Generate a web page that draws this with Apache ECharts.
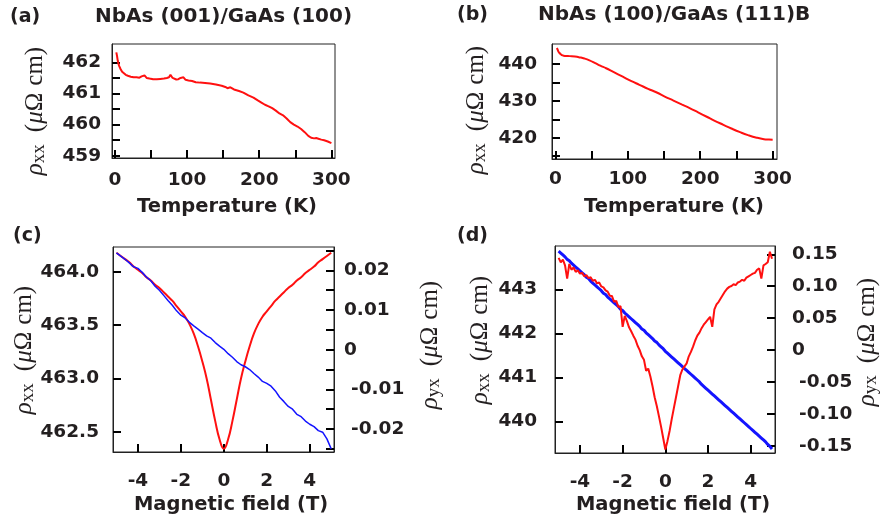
<!DOCTYPE html>
<html>
<head>
<meta charset="utf-8">
<script src="https://cdn.jsdelivr.net/npm/echarts@6/dist/echarts.min.js"></script>
<style>
html,body{margin:0;padding:0;background:#fff;}
#chart{width:883px;height:521px;}
</style>
</head>
<body>
<div id="chart"></div>
<script>
// ---------- Panel (a): NbAs (001)/GaAs (100), rho_xx vs T ----------
const tempA = [2,3,4,5,6,8,10,12,15,18,22,26,30,34,37,39,41,44,48,53,58,63,68,72,75,77,78.5,80,82,85,88,91,93,95,98,102,107,112,118,125,132,140,148,153,156,160,165,172,178,185,192,198,203,208,213,218,223,228,233,238,243,248,253,258,263,268,272,276,279,282,286,290,295,300];
const rhoA  = [462.32,462.2,462.05,461.95,461.88,461.78,461.7,461.65,461.6,461.57,461.54,461.52,461.52,461.51,461.55,461.6,461.58,461.5,461.48,461.46,461.46,461.47,461.48,461.5,461.52,461.6,461.6,461.5,461.45,461.45,461.46,461.5,461.55,461.52,461.44,461.42,461.4,461.36,461.35,461.34,461.32,461.29,461.25,461.21,461.17,461.2,461.13,461.08,461.03,460.94,460.87,460.78,460.71,460.64,460.59,460.53,460.45,460.36,460.3,460.2,460.08,460.0,459.94,459.86,459.76,459.64,459.58,459.56,459.57,459.55,459.52,459.5,459.46,459.41];
const xTicksA = [0,50,100,150,200,250,300];
const xLabelsA = [0,100,200,300];
const yTicksA = [459,459.5,460,460.5,461,461.5,462];
const yLabelsA = [459,460,461,462];

// ---------- Panel (b): NbAs (100)/GaAs (111)B ----------
const tempB = [2,3,4,5,7,10,14,20,27,34,40,47,55,62,70,80,93,105,116,128,140,151,163,175,186,197,209,220,232,243,255,266,278,288,295,300];
const rhoB  = [444.4,444.0,443.5,443.2,442.8,442.4,442.25,442.2,442.1,441.85,441.55,441.05,440.3,439.6,438.9,437.9,436.6,435.4,434.4,433.3,432.3,431.2,430.1,429.0,428.0,426.9,425.7,424.6,423.5,422.5,421.5,420.7,420.0,419.6,419.5,419.45];
const xTicksB = [0,50,100,150,200,250,300];
const xLabelsB = [0,100,200,300];
const yTicksB = [415,420,425,430,435,440];
const yLabelsB = [420,430,440];

// ---------- Panel (c): magnetic field sweep ----------
const fieldC = [-5.0,-4.8,-4.6,-4.4,-4.2,-4.0,-3.8,-3.6,-3.4,-3.2,-3.0,-2.8,-2.6,-2.4,-2.2,-2.0,-1.8,-1.6,-1.4,-1.2,-1.0,-0.8,-0.6,-0.4,-0.2,0.0,0.2,0.4,0.6,0.8,1.0,1.2,1.4,1.6,1.8,2.0,2.2,2.4,2.6,2.8,3.0,3.2,3.4,3.6,3.8,4.0,4.2,4.4,4.6,4.8,5.0];
const rhoXXC = [464.18,464.15,464.12,464.09,464.05,464.02,463.99,463.95,463.92,463.88,463.85,463.81,463.77,463.73,463.68,463.63,463.58,463.51,463.42,463.3,463.16,463.0,462.8,462.6,462.43,462.34,462.43,462.6,462.8,463.0,463.16,463.3,463.42,463.51,463.58,463.63,463.68,463.73,463.77,463.81,463.85,463.88,463.92,463.95,463.99,464.02,464.05,464.09,464.12,464.15,464.18];
const rhoYXC = [0.0244,0.0236,0.0228,0.0219,0.0209,0.0205,0.0195,0.0183,0.0174,0.0160,0.0150,0.0137,0.0124,0.0112,0.0098,0.0087,0.0080,0.0069,0.0060,0.0052,0.0043,0.0035,0.0029,0.0018,0.0009,0.0001,-0.0010,-0.0019,-0.0030,-0.0038,-0.0043,-0.0050,-0.0060,-0.0069,-0.0080,-0.0085,-0.0092,-0.0104,-0.0120,-0.0131,-0.0143,-0.0150,-0.0163,-0.0169,-0.0180,-0.0188,-0.0194,-0.0204,-0.0208,-0.0225,-0.0250];
const xTicksC = [-4,-2,0,2,4];
const yLeftTicksC = [462.5,463.0,463.5,464.0];
const yRightTicksC = [-0.025,-0.02,-0.015,-0.01,-0.005,0,0.005,0.01,0.015,0.02,0.025];
const yRightLabelsC = [-0.02,-0.01,0,0.01,0.02];

// ---------- Panel (d) ----------
const fieldD = [-5.0,-4.9,-4.8,-4.7,-4.6,-4.5,-4.4,-4.3,-4.2,-4.1,-4.0,-3.9,-3.8,-3.7,-3.6,-3.5,-3.4,-3.3,-3.2,-3.1,-3.0,-2.9,-2.8,-2.7,-2.6,-2.5,-2.4,-2.3,-2.2,-2.1,-2.0,-1.9,-1.8,-1.7,-1.6,-1.5,-1.4,-1.3,-1.2,-1.1,-1.0,-0.9,-0.8,-0.7,-0.6,-0.5,-0.4,-0.3,-0.2,-0.1,0.0,0.1,0.2,0.3,0.4,0.5,0.6,0.7,0.8,0.9,1.0,1.1,1.2,1.3,1.4,1.5,1.6,1.7,1.8,1.9,2.0,2.1,2.2,2.3,2.4,2.5,2.6,2.7,2.8,2.9,3.0,3.1,3.2,3.3,3.4,3.5,3.6,3.7,3.8,3.9,4.0,4.1,4.2,4.3,4.4,4.5,4.6,4.7,4.8,4.9,5.0];
const rhoXXD = [443.72,443.62,443.68,443.55,443.25,443.58,443.45,443.50,443.40,443.44,443.36,443.38,443.30,443.33,443.26,443.28,443.20,443.22,443.14,443.16,443.07,443.05,442.98,442.95,442.86,442.85,442.72,442.74,442.60,442.62,442.15,442.40,442.28,442.14,442.05,441.95,441.86,441.72,441.62,441.48,441.40,441.15,441.20,441.02,440.80,440.55,440.35,440.12,439.88,439.62,439.36,439.55,439.78,440.05,440.30,440.55,440.80,441.05,441.18,441.25,441.32,441.48,441.58,441.70,441.84,441.95,442.02,442.12,442.20,442.26,442.32,442.38,442.15,442.55,442.66,442.72,442.80,442.88,442.96,443.02,443.06,443.08,443.12,443.10,443.16,443.18,443.22,443.20,443.27,443.30,443.33,443.36,443.38,443.45,443.48,443.25,443.55,443.58,443.62,443.86,443.70];
const rhoYXD = [0.155,0.152,0.149,0.146,0.142,0.140,0.136,0.133,0.130,0.127,0.124,0.121,0.118,0.114,0.112,0.108,0.105,0.102,0.099,0.096,0.093,0.089,0.087,0.083,0.080,0.077,0.074,0.071,0.068,0.064,0.062,0.058,0.055,0.052,0.049,0.046,0.043,0.040,0.037,0.033,0.031,0.027,0.024,0.021,0.018,0.014,0.012,0.008,0.005,0.002,-0.002,-0.005,-0.008,-0.011,-0.014,-0.017,-0.020,-0.023,-0.026,-0.029,-0.032,-0.035,-0.038,-0.041,-0.044,-0.047,-0.050,-0.054,-0.057,-0.060,-0.063,-0.066,-0.069,-0.072,-0.075,-0.078,-0.081,-0.084,-0.087,-0.090,-0.093,-0.096,-0.099,-0.102,-0.105,-0.108,-0.111,-0.114,-0.117,-0.120,-0.123,-0.126,-0.129,-0.132,-0.135,-0.138,-0.141,-0.144,-0.148,-0.151,-0.155];
const xTicksD = [-4,-2,0,2,4];
const yLeftTicksD = [440,441,442,443];
const yRightTicksD = [-0.15,-0.10,-0.05,0,0.05,0.10,0.15];

// ---------- texts ----------
const panelTitles = ['NbAs (001)/GaAs (100)','NbAs (100)/GaAs (111)B'];
const panelTags = ['(a)','(b)','(c)','(d)'];
const xTitles = ['Temperature (K)','Temperature (K)','Magnetic field (T)','Magnetic field (T)'];

const TXT = '#231f20';
const RED = '#ff1010';
const BLUE = '#1414ff';
const tickFont = {fontFamily:'DejaVu Sans', fontWeight:'bold', fontSize:18.5, color:TXT};
const tickLine = {color:'#000', width:2};

const G = [
  {left:112, top:44, width:223, height:114},
  {left:552, top:44, width:225, height:115},
  {left:113, top:247, width:221, height:205},
  {left:555, top:246, width:220, height:207}
];

function xAx(grid, min, max, ticks, labels, margin){
  return {type:'value', gridIndex:grid, min:min, max:max, position:'bottom',
    axisLine:{show:true, onZero:false, lineStyle:{color:'#222', width:1}},
    splitLine:{show:false},
    axisTick:{show:true, inside:true, length:8, lineStyle:tickLine, customValues:ticks},
    axisLabel:Object.assign({show:true, margin:margin, customValues:labels, formatter:v=>String(v)}, tickFont)};
}
function yAx(grid, min, max, ticks, labels, pos, margin, fmt){
  return {type:'value', gridIndex:grid, min:min, max:max, position:pos,
    axisLine:{show:true, onZero:false, lineStyle:{color:'#222', width:1}},
    splitLine:{show:false},
    axisTick:{show:true, inside:true, length:8, lineStyle:tickLine, customValues:ticks},
    axisLabel:Object.assign({show:true, margin:margin, customValues:labels, formatter:fmt,
      rich:{n:Object.assign({padding:[0,0,0,7]}, tickFont)}}, tickFont)};
}
const negFmt2 = v => { if (Math.abs(v) < 1e-12) return '0'; const s = v.toFixed(2); return v < 0 ? '{n|' + s + '}' : s; };

const gridBox = {show:true, borderColor:'#222', borderWidth:1, backgroundColor:'transparent'};

function yLabel(x, y, sub){
  return {type:'text', x:x, y:y, rotation:Math.PI/2,
    style:{text:'{r|ρ}{s|' + sub + '}{g| }{n|(}{i|μ}{n|Ω}{g2| }{n|cm)}',
      align:'center', verticalAlign:'middle', textAlign:'center', textVerticalAlign:'middle',
      fill:TXT,
      rich:{
        r:{fontFamily:'Liberation Serif', fontStyle:'italic', fontSize:25, lineHeight:28, fill:TXT},
        s:{fontFamily:'Liberation Serif', fontSize:19, lineHeight:19, verticalAlign:'bottom', fill:TXT},
        g:{fontFamily:'Liberation Serif', fontSize:25, lineHeight:28, width:12},
        g2:{fontFamily:'Liberation Serif', fontSize:25, lineHeight:28, width:7},
        i:{fontFamily:'Liberation Serif', fontStyle:'italic', fontSize:25, lineHeight:28, fill:TXT},
        n:{fontFamily:'Liberation Serif', fontSize:25, lineHeight:28, fill:TXT}
      }}};
}
function txt(x, y, s, size, align){
  return {type:'text', x:x, y:y,
    style:{text:s, fontFamily:'DejaVu Sans', fontWeight:'bold', fontSize:size, fill:TXT,
      align:align, verticalAlign:'middle', textAlign:align, textVerticalAlign:'middle'}};
}

const chart = echarts.init(document.getElementById('chart'), null, {renderer:'canvas'});
chart.setOption({
  animation:false,
  backgroundColor:'#fff',
  grid:G.map(g => Object.assign({}, g, gridBox)),
  xAxis:[
    xAx(0, -4, 305, xTicksA, xLabelsA, 13),
    xAx(1, -4.7, 306, xTicksB, xLabelsB, 11),
    xAx(2, -5.16, 5.13, xTicksC, xTicksC, 20),
    xAx(3, -5.17, 5.14, xTicksD, xTicksD, 20)
  ],
  yAxis:[
    yAx(0, 458.93, 462.59, yTicksA, yLabelsA, 'left', 11, v=>String(v)),
    yAx(1, 414.2, 445.5, yTicksB, yLabelsB, 'left', 15, v=>String(v)),
    yAx(2, 462.31, 464.234, yLeftTicksC, yLeftTicksC, 'left', 14, v=>v.toFixed(1)),
    yAx(2, -0.0258, 0.0259, yRightTicksC, yRightLabelsC, 'right', 10, negFmt2),
    yAx(3, 439.28, 443.99, yLeftTicksD, yLeftTicksD, 'left', 18, v=>String(v)),
    yAx(3, -0.1614, 0.163, yRightTicksD, yRightTicksD, 'right', 17, negFmt2)
  ],
  series:[
    {type:'line', xAxisIndex:0, yAxisIndex:0, showSymbol:false, lineStyle:{color:RED, width:2}, data:tempA.map((t,i)=>[t, rhoA[i]])},
    {type:'line', xAxisIndex:1, yAxisIndex:1, showSymbol:false, smooth:true, lineStyle:{color:RED, width:2}, data:tempB.map((t,i)=>[t, rhoB[i]])},
    {type:'line', xAxisIndex:2, yAxisIndex:2, showSymbol:false, smooth:true, lineStyle:{color:RED, width:2}, data:fieldC.map((b,i)=>[b, rhoXXC[i]])},
    {type:'line', xAxisIndex:2, yAxisIndex:3, showSymbol:false, lineStyle:{color:BLUE, width:1.5}, data:fieldC.map((b,i)=>[b, rhoYXC[i]])},
    {type:'line', xAxisIndex:3, yAxisIndex:5, showSymbol:false, lineStyle:{color:BLUE, width:3}, data:fieldD.map((b,i)=>[b, rhoYXD[i]])},
    {type:'line', xAxisIndex:3, yAxisIndex:4, showSymbol:false, lineStyle:{color:RED, width:2}, data:fieldD.map((b,i)=>[b, rhoXXD[i]])}
  ],
  graphic:[
    txt(10, 17, panelTags[0], 19, 'left'),
    txt(457, 15, panelTags[1], 19, 'left'),
    txt(13, 236, panelTags[2], 19, 'left'),
    txt(457, 236, panelTags[3], 19, 'left'),
    txt(95, 17, panelTitles[0], 20, 'left'),
    txt(538, 15, panelTitles[1], 20, 'left'),
    txt(227, 207, xTitles[0], 19.5, 'center'),
    txt(674, 207, xTitles[1], 19.5, 'center'),
    txt(231, 505, xTitles[2], 19.5, 'center'),
    txt(673, 505, xTitles[3], 19.5, 'center'),
    yLabel(35, 111, 'xx'),
    yLabel(476, 110, 'xx'),
    yLabel(24, 350, 'xx'),
    yLabel(430, 345, 'yx'),
    yLabel(480, 340, 'xx'),
    yLabel(867, 342, 'yx')
  ]
});
</script>
</body>
</html>
